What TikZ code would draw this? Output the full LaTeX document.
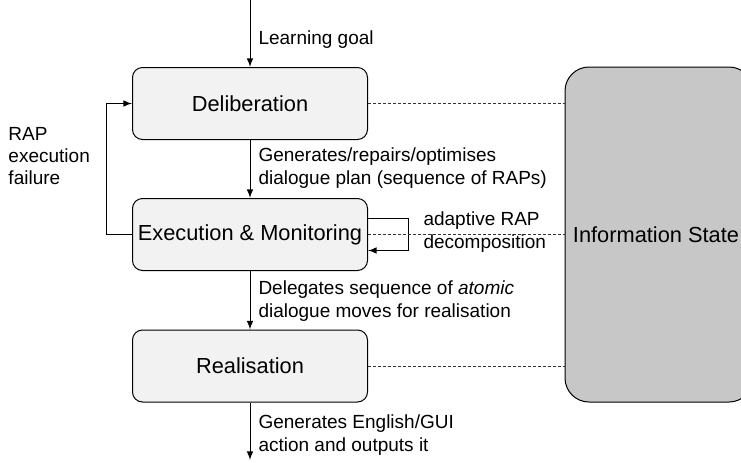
\documentclass[tikz,border=0pt]{standalone}
\usepackage{fontspec}
\setmainfont{Liberation Sans}
\usetikzlibrary{calc}

\tikzset{
	stage/.style = {draw, rounded corners = 5pt, fill = black!5, minimum width = 117.5pt, minimum height = 36pt, inner sep = 0pt, font = \fontsize{10.9}{12}\selectfont},
	infostate/.style = {draw, rounded corners = 12pt, fill = black!22, minimum width = 94pt, minimum height = 167.5pt, inner sep = 0pt, font = \fontsize{10.9}{12}\selectfont},
	lbl/.style = {anchor = west, align = left, inner sep = 0pt, font = \fontsize{9.5}{11.2}\selectfont},
	link/.style = {dash pattern = on 1.6pt off 0.9pt, black!80}
}

\begin{document}
\begin{tikzpicture}[x = 0.5pt, y = -0.5pt, line width = 0.5pt, >=latex]
	\useasboundingbox (0,0) rectangle (741,462);
	\clip (0,0) rectangle (741,462);

	\node [stage] (delib) at (250,103.5) {Deliberation};
	\node [stage] (exec) at (250,234.5) {Execution \& Monitoring};
	\node [stage] (real) at (250,366) {Realisation};
	\node [infostate] (info) at (659,234.5) {};
	\node [font = \fontsize{10.9}{12}\selectfont, inner sep = 0pt] (infotext) at (656,234.5) {Information State};

	\coordinate (start) at (250,0);
	\coordinate (finish) at (250,460);

	\draw [->] (start) -- (delib.north);
	\draw [->] (delib.south) -- (exec.north);
	\draw [->] (exec.south) -- (real.north);
	\draw [->] (real.south) -- (finish);

	% failure loop back to deliberation
	\draw [->] (exec.west) -- ++(-26,0) |- (delib.west);
	% self loop
	\draw [->] ([yshift=8pt]exec.east) -- ++(40,0) |- ([yshift=-8pt]exec.east);

	\draw [link] (delib.east) -- (delib.east -| info.west);
	\draw [link] (exec.east) -- (exec.east -| info.west);
	\draw [link] (real.east) -- (real.east -| info.west);

	\node [lbl] (goal) at (258,40) {Learning goal};
	\node [lbl] (plan) at (258,168) {Generates/repairs/optimises\\dialogue plan (sequence of RAPs)};
	\node [lbl] (moves) at (258,301) {Delegates sequence of \emph{atomic}\\dialogue moves for realisation};
	\node [lbl] (output) at (258,435) {Generates English/GUI\\action and outputs it};
	\node [lbl] (decomp) at (423,232) {adaptive RAP\\decomposition};
	\node [lbl] (failure) at (8,156) {RAP\\execution\\failure};
\end{tikzpicture}
\end{document}
